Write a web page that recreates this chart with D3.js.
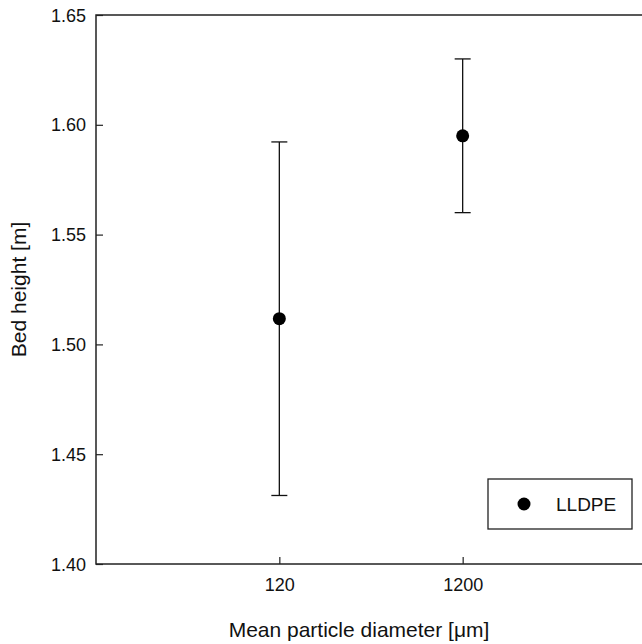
<!DOCTYPE html>
<html>
<head>
<meta charset="utf-8">
<script src="https://cdn.jsdelivr.net/npm/d3@7"></script>
<style>
  body { margin: 0; background: #fff; }
  text { font-family: "Liberation Sans", Arial, sans-serif; fill: #111; }
</style>
</head>
<body>
<svg width="642" height="644"></svg>
<script>
const categories = ['120', '1200'];
const means = [1.5117, 1.595];
const errors = [0.0805, 0.035];
const yTicks = [1.40, 1.45, 1.50, 1.55, 1.60, 1.65];
const seriesName = 'LLDPE';

const svg = d3.select('svg');

const mLeft = 96, mRight = 646, mTop = 15, mBottom = 564;

const x = d3.scalePoint()
  .domain(categories)
  .range([mLeft, mRight])
  .padding(1);

const y = d3.scaleLinear()
  .domain([1.40, 1.65])
  .range([mBottom, mTop]);

// frame
svg.append('rect')
  .attr('x', mLeft)
  .attr('y', mTop)
  .attr('width', mRight - mLeft)
  .attr('height', mBottom - mTop)
  .style('fill', 'none')
  .style('stroke', '#222')
  .style('stroke-width', 1.5);

// y axis, ticks pointing inward
const yAxis = svg.append('g')
  .attr('transform', `translate(${mLeft},0)`)
  .call(d3.axisRight(y).tickValues(yTicks).tickSize(7).tickFormat(d3.format('.2f')));
yAxis.select('.domain').remove();
yAxis.selectAll('line').style('stroke', '#222').style('stroke-width', 1.2);
yAxis.selectAll('text')
  .attr('x', -10)
  .attr('dy', '0.34em')
  .style('text-anchor', 'end')
  .style('font-size', '18px')
  .style('fill', '#111');

// x axis, ticks pointing inward
const xAxis = svg.append('g')
  .attr('transform', `translate(0,${mBottom})`)
  .call(d3.axisTop(x).tickSize(7));
xAxis.select('.domain').remove();
xAxis.selectAll('line').style('stroke', '#222').style('stroke-width', 1.2);
xAxis.selectAll('text')
  .attr('y', 27)
  .attr('dy', 0)
  .style('font-size', '18px')
  .style('fill', '#111');

// axis titles
svg.append('text')
  .attr('x', 359)
  .attr('y', 637)
  .style('text-anchor', 'middle')
  .style('font-size', '21px')
  .text('Mean particle diameter [μm]');

svg.append('text')
  .attr('transform', `translate(26,${(mTop + mBottom) / 2}) rotate(-90)`)
  .style('text-anchor', 'middle')
  .style('font-size', '21px')
  .text('Bed height [m]');

const data = categories.map((c, i) => ({ c, m: means[i], e: errors[i] }));

// error bars
const eb = svg.append('g').selectAll('g')
  .data(data)
  .join('g')
  .style('stroke', '#111')
  .style('stroke-width', 1.3);

eb.append('line')
  .attr('x1', d => x(d.c))
  .attr('x2', d => x(d.c))
  .attr('y1', d => y(d.m + d.e))
  .attr('y2', d => y(d.m - d.e));

eb.append('line')
  .attr('x1', d => x(d.c) - 8)
  .attr('x2', d => x(d.c) + 8)
  .attr('y1', d => y(d.m + d.e))
  .attr('y2', d => y(d.m + d.e));

eb.append('line')
  .attr('x1', d => x(d.c) - 8)
  .attr('x2', d => x(d.c) + 8)
  .attr('y1', d => y(d.m - d.e))
  .attr('y2', d => y(d.m - d.e));

svg.append('g').selectAll('circle')
  .data(data)
  .join('circle')
  .attr('cx', d => x(d.c))
  .attr('cy', d => y(d.m))
  .attr('r', 6.5)
  .style('fill', '#000');

// legend
const lg = svg.append('g');
lg.append('rect')
  .attr('x', 488)
  .attr('y', 479)
  .attr('width', 144)
  .attr('height', 50)
  .style('fill', '#fff')
  .style('stroke', '#222')
  .style('stroke-width', 1.3);
lg.append('circle')
  .attr('cx', 524)
  .attr('cy', 504)
  .attr('r', 6.5)
  .style('fill', '#000');
lg.append('text')
  .attr('x', 556)
  .attr('y', 511)
  .style('font-size', '19px')
  .text(seriesName);
</script>
</body>
</html>
